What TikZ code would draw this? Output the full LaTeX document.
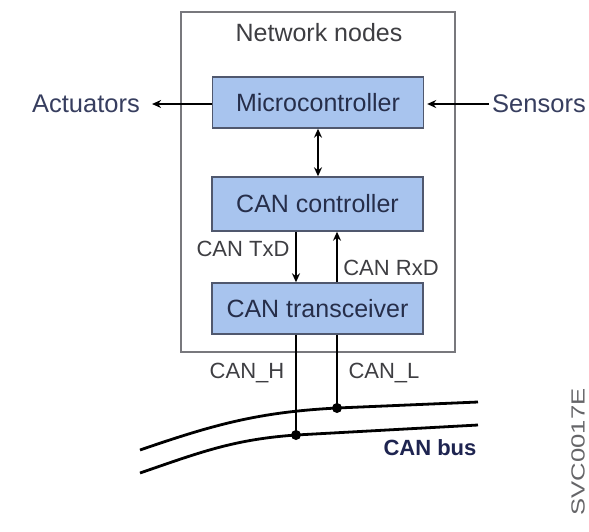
\documentclass[tikz,border=0pt]{standalone}
\usepackage{fontspec}
\setmainfont{Liberation Sans}
\usetikzlibrary{arrows.meta}
\definecolor{boxfill}{RGB}{168,196,238}
\definecolor{boxline}{RGB}{80,88,110}
\definecolor{navytext}{RGB}{38,46,74}
\definecolor{greytext}{RGB}{62,62,66}
\definecolor{sidetext}{RGB}{55,62,95}
\definecolor{busblue}{RGB}{30,36,80}
\definecolor{outerline}{RGB}{120,120,125}
\tikzset{
  blockbox/.style={draw=boxline, line width=1.4pt, fill=boxfill, minimum width=211pt, inner sep=0pt, text=navytext, font=\fontsize{25}{28}\selectfont},
  lbl/.style={inner sep=0pt, text=greytext, font=\fontsize{22}{24}\selectfont},
  side/.style={inner sep=0pt, text=sidetext, font=\fontsize{25.5}{28}\selectfont},
  wire/.style={line width=2.3pt, black},
  arr/.style={wire, -{Stealth[length=9pt,width=8pt]}},
  darr/.style={wire, {Stealth[length=9pt,width=8pt]}-{Stealth[length=9pt,width=8pt]}},
  bus/.style={line width=2.8pt, black},
  dot/.style={circle, fill=black, inner sep=0pt, minimum size=10pt}
}
\begin{document}
\begin{tikzpicture}[x=1pt,y=-1pt]
\useasboundingbox (0,0) rectangle (589,531);
\fill[white] (0,0) rectangle (589,531);
% outer box
\draw[outerline, line width=1.3pt] (181,12) rectangle (455,352);
\node[lbl, font=\fontsize{25}{28}\selectfont] (title) at (319,33) {Network nodes};
% blocks
\node[blockbox, minimum height=51pt] (mc) at (318,102.5) {Microcontroller};
\node[blockbox, minimum height=54pt] (ctrl) at (317.5,204) {CAN controller};
\node[blockbox, minimum height=51pt] (trx) at (317.5,308.5) {CAN transceiver};
% side labels
\node[side] (act) at (86,104) {Actuators};
\node[side] (sen) at (539,104) {Sensors};
\draw[arr, shorten >=12pt] (mc.west |- act.east) -- (act.east);
\draw[arr, shorten <=3pt, shorten >=3pt] (sen.west) -- (mc.east |- sen.west);
% micro <-> controller
\draw[darr] (mc.south) -- (ctrl.north -| mc.south);
% TxD / RxD
\coordinate (tx) at (296,0);
\coordinate (rx) at (337,0);
\draw[arr] (ctrl.south -| tx) -- (trx.north -| tx);
\draw[arr] (trx.north -| rx) -- (ctrl.south -| rx);
\node[lbl] (txd) at (243,249) {CAN TxD};
\node[lbl] (rxd) at (391,268) {CAN RxD};
% bus
\coordinate (dH) at (296,435);
\coordinate (dL) at (337,408);
\coordinate (uS) at (140,450);
\coordinate (uE) at (478,402);
\coordinate (lS) at (140,473);
\coordinate (lE) at (478,425);
\draw[bus] (uS) to[out=19,in=-177] (dL) -- (uE);
\draw[bus] (lS) to[out=19,in=-176] (dH) -- (lE);
\draw[wire] (trx.south -| dH) -- (dH);
\draw[wire] (trx.south -| dL) -- (dL);
\node[dot] (dotH) at (dH) {};
\node[dot] (dotL) at (dL) {};
\node[lbl] (canh) at (247,373) {CAN\_H};
\node[lbl] (canl) at (384,373) {CAN\_L};
\node[inner sep=0pt, text=busblue, font=\fontsize{22}{24}\selectfont\bfseries] (busl) at (430,448) {CAN bus};
\node[inner sep=0pt, text=greytext!80, font=\fontsize{19}{21}\selectfont, rotate=90, xscale=1.35] (code) at (578,452) {SVC0017E};
\end{tikzpicture}
\end{document}
